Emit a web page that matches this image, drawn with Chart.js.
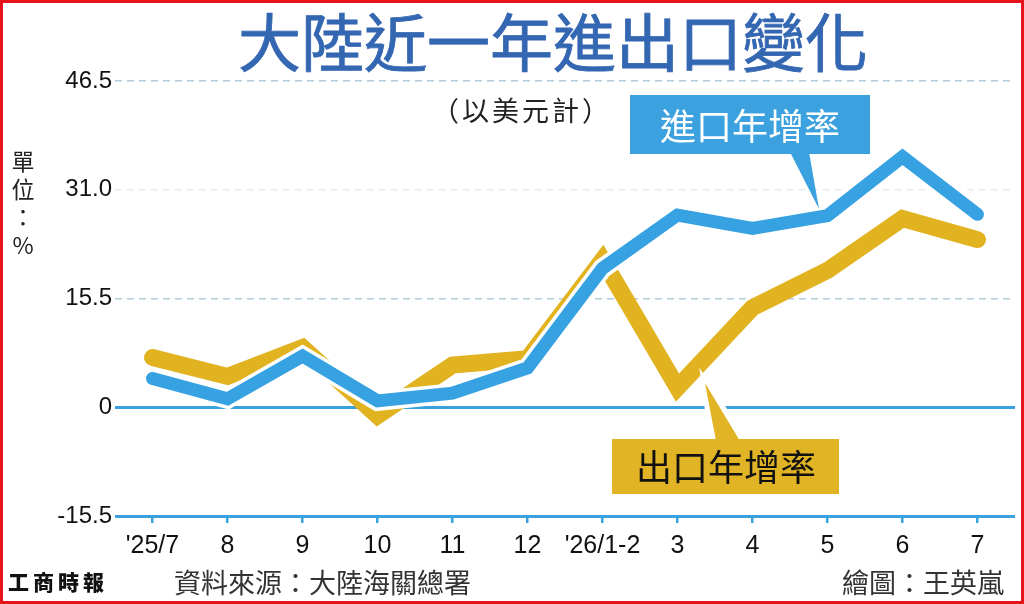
<!DOCTYPE html>
<html>
<head>
<meta charset="utf-8">
<script src="https://cdn.jsdelivr.net/npm/chart.js@4.4.1/dist/chart.umd.min.js"></script>
<style>
  html, body { margin: 0; padding: 0; background: #fff; }
  #wrap { position: relative; width: 1024px; height: 604px; overflow: hidden; background: #fff; }
  #chart { position: absolute; left: 0; top: 0; }
  .txt { position: absolute; font-family: "Noto Sans CJK TC", sans-serif; white-space: nowrap; }
  #title { left: 0; width: 1106px; top: 2px; text-align: center; font-size: 63px; font-weight: 400; color: #3467b2; line-height: 74px; -webkit-text-stroke: 0.8px #3467b2; }
  #sub { left: 432px; top: 90px; font-size: 27px; color: #222; letter-spacing: 3px; }
  #unit { left: 10px; top: 146px; width: 26px; text-align: center; font-size: 23px; line-height: 28px; color: #222; }
  #logo { left: 8px; top: 566px; font-size: 21px; font-weight: 900; color: #111; letter-spacing: 4px; }
  #src { left: 174px; top: 562px; font-size: 27px; color: #333; }
  #credit { left: 842px; top: 562px; font-size: 27px; color: #333; }
  #frame { position: absolute; left: 0; top: 0; width: 1024px; height: 604px; box-sizing: border-box; border: 3px solid #e8141b; pointer-events: none; }
</style>
</head>
<body>
<div id="wrap">
  <canvas id="chart" width="1024" height="604"></canvas>
  <div class="txt" id="title">大陸近一年進出口變化</div>
  <div class="txt" id="sub">（以美元計）</div>
  <div class="txt" id="unit">單<br>位<br>：<br>%</div>
  <div class="txt" id="logo">工商時報</div>
  <div class="txt" id="src">資料來源：大陸海關總署</div>
  <div class="txt" id="credit">繪圖：王英嵐</div>
  <div id="frame"></div>
</div>
<script>
// data (year-on-year growth, %)
const categories = ["'25/7", "8", "9", "10", "11", "12", "'26/1-2", "3", "4", "5", "6", "7"];
const importGrowth = [4.1, 1.2, 7.3, 0.9, 2.0, 5.6, 19.8, 27.4, 25.5, 27.3, 35.7, 27.5];
const exportGrowth = [7.1, 4.4, 8.5, -1.2, 6.0, 6.9, 21.0, 2.8, 14.2, 19.5, 26.9, 23.9];
const yTicks = [-15.5, 0, 15.5, 31.0, 46.5];
const yTickLabels = ['-15.5', '0', '15.5', '31.0', '46.5'];

const BLUE = '#37a2e2';
const GOLD = '#e2b321';
const AXIS_BLUE = '#3aa0de';

// callout boxes with pointers
const calloutPlugin = {
  id: 'callouts',
  afterDatasetsDraw(chart) {
    const ctx = chart.ctx;
    ctx.save();
    // import callout
    ctx.fillStyle = '#3ba1df';
    ctx.fillRect(630, 95, 240, 59);
    ctx.beginPath();
    ctx.moveTo(790, 152); ctx.lineTo(809, 152); ctx.lineTo(819, 209);
    ctx.closePath(); ctx.fill();
    ctx.fillStyle = '#fff';
    ctx.font = '36px "Noto Sans CJK TC"';
    ctx.textAlign = 'center';
    ctx.textBaseline = 'middle';
    ctx.fillText('進口年增率', 750, 126);
    // export callout
    ctx.fillStyle = '#fff';
    ctx.beginPath();
    ctx.moveTo(704, 380); ctx.lineTo(712, 441); ctx.lineTo(745, 441);
    ctx.closePath(); ctx.fill();
    ctx.lineWidth = 6; ctx.strokeStyle = '#fff'; ctx.stroke();
    ctx.fillStyle = '#e1b425';
    ctx.beginPath();
    ctx.moveTo(705, 383); ctx.lineTo(716, 441); ctx.lineTo(740, 441);
    ctx.closePath(); ctx.fill();
    ctx.fillRect(612, 439, 227, 55);
    ctx.fillStyle = '#111';
    ctx.fillText('出口年增率', 726, 467);
    ctx.restore();
  }
};

new Chart(document.getElementById('chart'), {
  type: 'line',
  data: {
    labels: categories,
    datasets: [
      { data: importGrowth, borderColor: BLUE, borderWidth: 13, borderCapStyle: 'round', borderJoinStyle: 'miter', pointRadius: 0, tension: 0 },
      { data: importGrowth, borderColor: '#ffffff', borderWidth: 20, borderCapStyle: 'round', borderJoinStyle: 'miter', pointRadius: 0, tension: 0 },
      { data: exportGrowth, borderColor: GOLD, borderWidth: 17, borderCapStyle: 'round', borderJoinStyle: 'miter', pointRadius: 0, tension: 0 }
    ]
  },
  options: {
    responsive: false,
    animation: false,
    layout: { padding: { top: 81, left: 0, right: 9, bottom: 48 } },
    plugins: { legend: { display: false }, tooltip: { enabled: false } },
    scales: {
      x: {
        offset: true,
        afterFit: s => { s.height = 40; },
        grid: { offset: false, drawOnChartArea: false, drawTicks: true, tickLength: 7, color: AXIS_BLUE, lineWidth: 2.5 },
        border: { display: false },
        ticks: { padding: 8, color: '#111', font: { family: 'Liberation Sans', size: 25 }, maxRotation: 0, autoSkip: false }
      },
      y: {
        min: -15.5,
        max: 46.5,
        afterFit: s => { s.width = 115; },
        afterBuildTicks: s => { s.ticks = yTicks.map(v => ({ value: v })); },
        ticks: {
          padding: 3,
          color: '#111',
          font: { family: 'Liberation Sans', size: 24 },
          callback: (v) => yTickLabels[yTicks.indexOf(v)]
        },
        grid: {
          drawTicks: false,
          color: c => {
            const v = c.tick ? c.tick.value : 0;
            if (v <= 0) return AXIS_BLUE;
            return v === 31 ? '#e6eef3' : '#b4cddd';
          },
          lineWidth: c => (c.tick && c.tick.value <= 0 ? 3 : 1.5)
        },
        border: { display: false, dash: c => (c.tick && c.tick.value > 0 ? [7, 5] : []) }
      }
    }
  },
  plugins: [calloutPlugin]
});
</script>
</body>
</html>
